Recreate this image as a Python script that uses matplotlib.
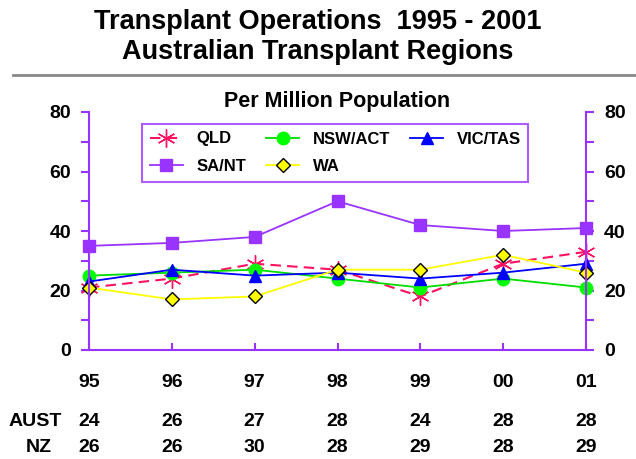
import matplotlib
matplotlib.use("Agg")
import matplotlib.pyplot as plt
from matplotlib.lines import Line2D
import matplotlib.transforms as mtransforms

plt.rcParams['font.family'] = ['Liberation Sans', 'DejaVu Sans']

years = ["95", "96", "97", "98", "99", "00", "01"]
qld = [21, 24, 29, 27, 18, 29, 33]
nsw_act = [25, 26, 27, 24, 21, 24, 21]
vic_tas = [23, 27, 25, 26, 24, 26, 29]
sa_nt = [35, 36, 38, 50, 42, 40, 41]
wa = [21, 17, 18, 27, 27, 32, 26]
aust = [24, 26, 27, 28, 24, 28, 28]
nz = [26, 26, 30, 28, 29, 28, 29]
y_ticks = [0, 20, 40, 60, 80]

W, H = 636, 459
fig = plt.figure(figsize=(W / 100, H / 100), dpi=100)
fig.patch.set_facecolor('white')

L, R, B, T = 89, 586, 350, 112
ax = fig.add_axes([L / W, 1 - B / H, (R - L) / W, (B - T) / H])
ax.set_facecolor('white')

purple = '#9933FF'
x = list(range(len(years)))

l_qld, = ax.plot(x, qld, color='#FF1060', ls=(0, (5, 3)), lw=1.5, marker=(6, 2, 0),
                 ms=13, mew=1.0, mec='#FF1060', clip_on=False, label='QLD')
l_nsw, = ax.plot(x, nsw_act, color='#00DD00', lw=1.3, marker='o', ms=9,
                 mfc='#00FF00', mec='#00FF00', clip_on=False, label='NSW/ACT')
l_vic, = ax.plot(x, vic_tas, color='#0000FF', lw=1.3, marker='^', ms=9,
                 mfc='#0000FF', mec='#0000FF', clip_on=False, label='VIC/TAS')
l_sa, = ax.plot(x, sa_nt, color=purple, lw=1.3, marker='s', ms=8,
                mfc=purple, mec=purple, clip_on=False, label='SA/NT')
l_wa, = ax.plot(x, wa, color='#FFFF00', lw=1.3, marker='D', ms=7.5,
                mfc='#FFFF00', mec='black', mew=1.0, clip_on=False, label='WA')

ax.set_xlim(0, 6)
ax.set_ylim(0, 80)

for s in ['left', 'right', 'bottom']:
    ax.spines[s].set_color(purple)
    ax.spines[s].set_linewidth(1.5)
ax.spines['top'].set_visible(False)

ax.set_yticks(range(0, 81, 10))
ax.set_yticklabels([str(v) if v in y_ticks else '' for v in range(0, 81, 10)])
ax.tick_params(axis='y', which='both', direction='out', length=6, width=1.5, color=purple,
               labelsize=14, pad=7, left=True, right=True, labelleft=True, labelright=True)
for t in ax.yaxis.get_major_ticks():
    t.label1.set_fontweight('bold')
    t.label2.set_fontweight('bold')

ax.set_xticks(x)
ax.set_xticklabels(years)
ax.tick_params(axis='x', direction='in', length=5, width=1.5, color=purple,
               labelsize=14, pad=17)
for lab in ax.get_xticklabels():
    lab.set_fontweight('bold')

trans = mtransforms.blended_transform_factory(ax.transData, fig.transFigure)
for xi, a, n in zip(x, aust, nz):
    ax.text(xi, 1 - 422 / H, str(a), transform=trans, ha='center', va='center',
            fontsize=14, fontweight='bold', clip_on=False)
    ax.text(xi, 1 - 447 / H, str(n), transform=trans, ha='center', va='center',
            fontsize=14, fontweight='bold', clip_on=False)
fig.text(35 / W, 1 - 422 / H, 'AUST', ha='center', va='center', fontsize=14, fontweight='bold')
fig.text(39 / W, 1 - 447 / H, 'NZ', ha='center', va='center', fontsize=14, fontweight='bold')

ax.set_title('Per Million Population', fontsize=15.5, fontweight='bold', pad=-1)

handles = [l_qld, l_sa, l_nsw, l_wa, l_vic]
leg = ax.legend(handles=handles, ncol=3, loc='upper left',
                bbox_to_anchor=((142 - L) / (R - L), (B - 124) / (B - T)),
                borderaxespad=0, frameon=True, fancybox=False,
                prop={'weight': 'bold', 'size': 12}, handlelength=2.0,
                handletextpad=0.8, columnspacing=1.2, labelspacing=0.75,
                borderpad=0.45)
leg.get_frame().set_edgecolor(purple)
leg.get_frame().set_linewidth(1.5)

fig.text(0.5, 1 - 22 / H, 'Transplant Operations  1995 - 2001', ha='center', va='center',
         fontsize=19.5, fontweight='bold')
fig.text(0.5, 1 - 52 / H, 'Australian Transplant Regions', ha='center', va='center',
         fontsize=19.5, fontweight='bold')
fig.add_artist(Line2D([13 / W, 1.0], [1 - 75 / H, 1 - 75 / H], color='#888888', lw=2,
                      transform=fig.transFigure))

fig.savefig('out.png', dpi=100, facecolor='white')
